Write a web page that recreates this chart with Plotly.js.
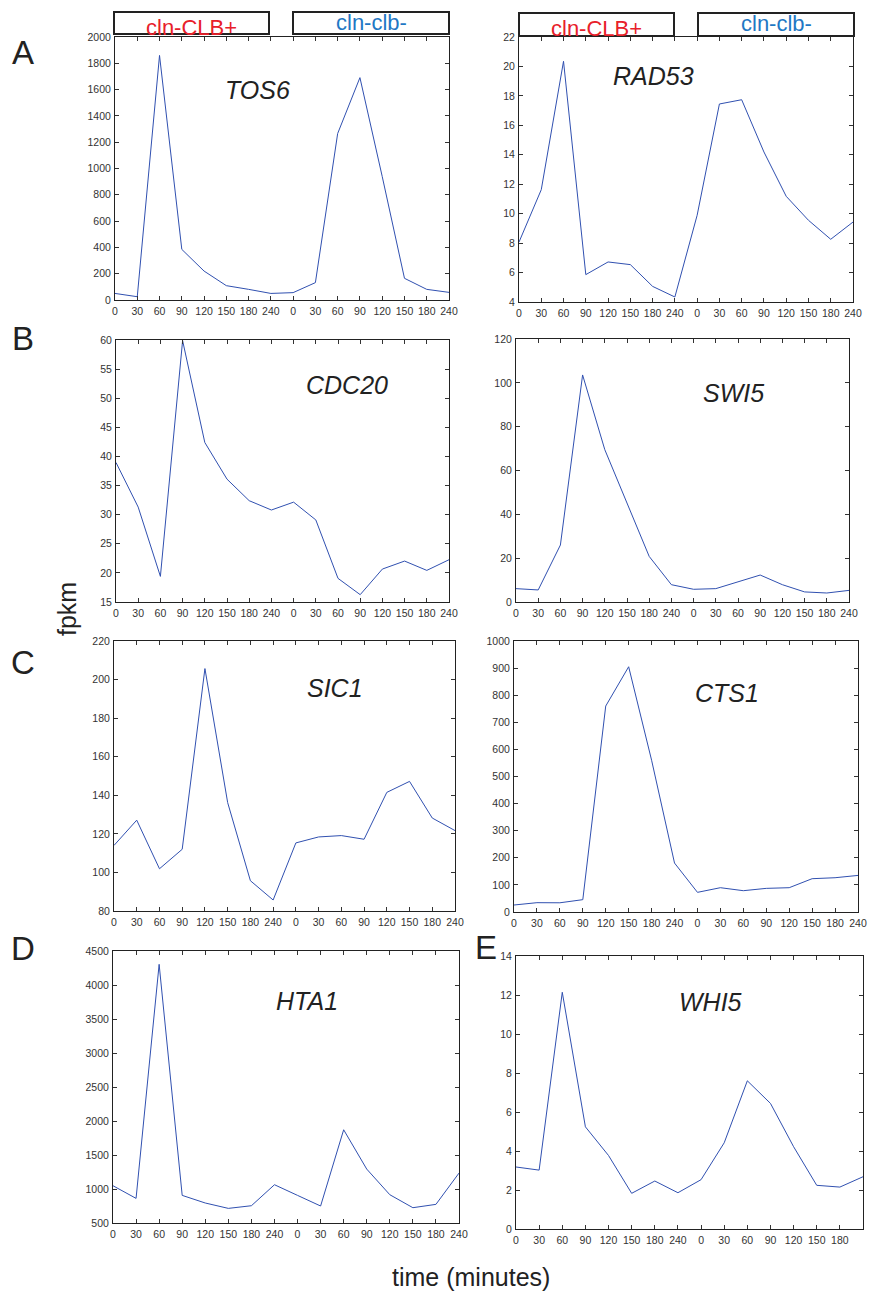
<!DOCTYPE html>
<html>
<head>
<meta charset="utf-8">
<script src="https://cdn.plot.ly/plotly-3.0.1.min.js"></script>
<style>html,body{margin:0;padding:0;background:#fff;}#chart{width:869px;height:1292px;}</style>
</head>
<body>
<div id="chart"></div>
<script>
// Time-point tick labels (two series of 8 time points)
const timeLabels = ["0","30","60","90","120","150","180","240","0","30","60","90","120","150","180","240"];

// fpkm values
const TOS6  = [50, 25, 1860, 385, 220, 109, 81, 50, 56, 132, 1266, 1691, 940, 165, 81, 58];
const RAD53 = [8.07, 11.63, 20.35, 5.86, 6.72, 6.54, 5.06, 4.34, 9.89, 17.45, 17.74, 14.19, 11.18, 9.55, 8.26, 9.43];
const CDC20 = [38.96, 31.3, 19.4, 59.9, 42.4, 36.1, 32.4, 30.8, 32.15, 29.1, 19.06, 16.26, 20.66, 22.03, 20.43, 22.26];
const SWI5  = [6.1, 5.5, 26.0, 103.6, 69.5, 45.2, 20.8, 7.9, 5.8, 6.1, 9.3, 12.3, 7.9, 4.6, 4.1, 5.3];
const SIC1  = [114, 127.1, 101.9, 112, 205.7, 136.2, 95.7, 85.7, 115.3, 118.4, 119.1, 117.2, 141.5, 147.2, 128.2, 121.7];
const CTS1  = [25.8, 34.4, 34, 45.5, 760, 905, 560, 180.6, 72.5, 89.7, 78.6, 87.2, 89.7, 122.9, 126.5, 135];
const HTA1  = [1048, 862, 4304, 906, 794, 715, 754, 1063, 906, 750, 1871, 1293, 916, 725, 774, 1234];
const WHI5  = [3.18, 3.02, 12.14, 5.24, 3.77, 1.83, 2.46, 1.86, 2.53, 4.42, 7.6, 6.44, 4.22, 2.24, 2.15, 2.68];

const geneNames = ["TOS6","RAD53","CDC20","SWI5","SIC1","CTS1","HTA1","WHI5"];
const geneData  = [TOS6, RAD53, CDC20, SWI5, SIC1, CTS1, HTA1, WHI5];
const yRanges   = [[0,2000],[4,22],[15,60],[0,120],[80,220],[0,1000],[500,4500],[0,14]];
const yDticks   = [200, 2, 5, 20, 20, 100, 500, 2];
const panelLetters = ["A","B","C","D","E"];
const conditionLabels = ["cln-CLB+","cln-clb-"];

// Layout geometry (pixels)
const W = 869, H = 1292;
const boxes = [ // [left, right, top, bottom]
  [115,449,37,300],[519,853,37,302],
  [116,449,340,602],[516,849,339,602],
  [114,455,641,911],[514,858,641,912],
  [113,459,951,1223],[516,863,956,1229]
];
const genePos = [[257,90],[653,76],[347,385],[733,393],[335,688],[727,693],[307,1001],[710,1002]];
const letterPos = [[23,52],[23,338],[23,662],[23,948],[486,947]];

const px = v => v / W;
const py = v => 1 - v / H;

const xIdx = timeLabels.map((_, i) => i);
const data = [];
const layout = {
  width: W, height: H,
  margin: {l:0, r:0, t:0, b:0},
  paper_bgcolor: "#fff", plot_bgcolor: "#fff",
  showlegend: false,
  font: {family: "Liberation Sans, Arial, sans-serif", color: "#222"},
  annotations: [], shapes: []
};

const lineColor = "#3050b0";
geneData.forEach((vals, i) => {
  const n = i === 0 ? "" : String(i + 1);
  data.push({
    x: xIdx, y: vals, type: "scatter", mode: "lines",
    line: {color: lineColor, width: 1},
    xaxis: "x" + n, yaxis: "y" + n, hoverinfo: "skip"
  });
  const b = boxes[i];
  const axCommon = {
    showgrid: false, zeroline: false, showline: true, linecolor: "#222", linewidth: 1,
    mirror: "ticks", ticks: "inside", ticklen: 4, tickwidth: 1, tickcolor: "#333",
    tickfont: {size: 10.5, color: "#333", family: "Liberation Sans, Arial, sans-serif"},
    fixedrange: true
  };
  layout["xaxis" + n] = Object.assign({}, axCommon, {
    domain: [px(b[0]), px(b[1])], anchor: "y" + n,
    range: [0, timeLabels.length - 1], tickmode: "array",
    tickvals: xIdx, ticktext: timeLabels, ticklabelstandoff: 1
  });
  layout["yaxis" + n] = Object.assign({}, axCommon, {
    domain: [py(b[3]), py(b[2])], anchor: "x" + n,
    range: yRanges[i], dtick: yDticks[i], tick0: yRanges[i][0], ticklabelstandoff: 1
  });
  layout.annotations.push({
    xref: "paper", yref: "paper", x: px(genePos[i][0]), y: py(genePos[i][1]),
    text: "<i>" + geneNames[i] + "</i>", showarrow: false,
    xanchor: "center", yanchor: "middle",
    font: {size: 25, color: "#222", family: "Liberation Sans, Arial, sans-serif"}
  });
});

// Panel letters
panelLetters.forEach((L, i) => {
  layout.annotations.push({
    xref: "paper", yref: "paper", x: px(letterPos[i][0]), y: py(letterPos[i][1]),
    text: L, showarrow: false, xanchor: "center", yanchor: "middle",
    font: {size: 33, color: "#222"}
  });
});

// Condition boxes above the first row
const condBoxes = [
  [[114,269,12,34],[293,449,12,34]],
  [[519,674,13,36],[698,854,13,36]]
];
const condColors = ["#e8202a", "#1f78c4"];
const condTextY = [[27,23],[28,24]];
condBoxes.forEach((pair, pi) => {
  pair.forEach((bx, k) => {
    layout.shapes.push({
      type: "rect", xref: "paper", yref: "paper",
      x0: px(bx[0]), x1: px(bx[1]), y0: py(bx[3]), y1: py(bx[2]),
      line: {color: "#222", width: 2}, fillcolor: "rgba(0,0,0,0)"
    });
    layout.annotations.push({
      xref: "paper", yref: "paper", x: px((bx[0] + bx[1]) / 2), y: py(condTextY[pi][k]),
      text: conditionLabels[k], showarrow: false, xanchor: "center", yanchor: "middle",
      font: {size: 22, color: condColors[k]}
    });
  });
});

// Shared axis labels
layout.annotations.push({
  xref: "paper", yref: "paper", x: px(67), y: py(609), text: "fpkm",
  showarrow: false, textangle: -90, xanchor: "center", yanchor: "middle",
  font: {size: 25, color: "#222"}
});
layout.annotations.push({
  xref: "paper", yref: "paper", x: px(471), y: py(1277), text: "time (minutes)",
  showarrow: false, xanchor: "center", yanchor: "middle",
  font: {size: 25, color: "#222"}
});

Plotly.newPlot("chart", data, layout, {staticPlot: true, displayModeBar: false});
</script>
</body>
</html>
